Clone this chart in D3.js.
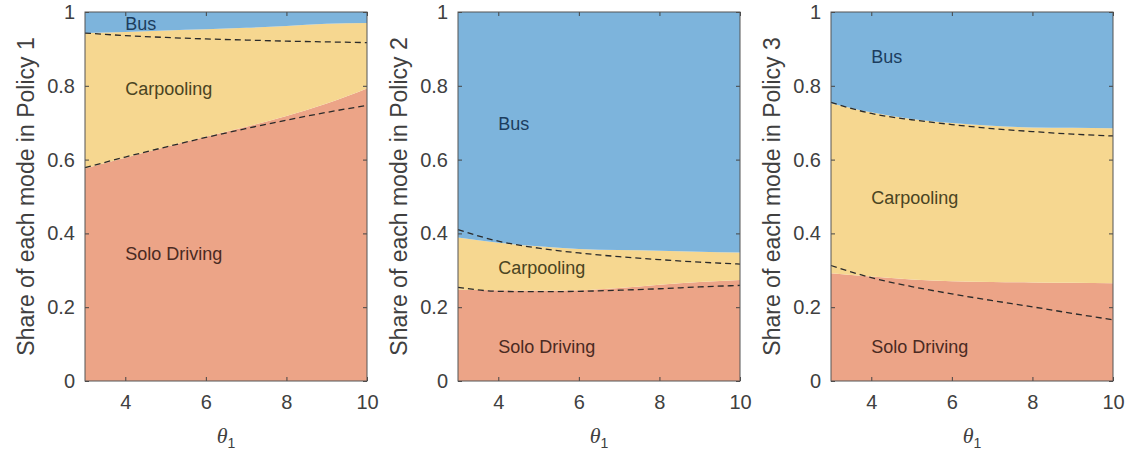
<!DOCTYPE html>
<html>
<head>
<meta charset="utf-8">
<script src="https://d3js.org/d3.v7.min.js"></script>
<style>
  body { margin: 0; background: #fff; }
  svg { display: block; font-family: "Liberation Sans", Arial, sans-serif; }
</style>
</head>
<body>
<div id="chart"></div>
<script>
// theta_1 values
const theta = [3, 4, 5, 6, 7, 8, 9, 10];
const modes = ["Solo Driving", "Carpooling", "Bus"];
const xTicks = [4, 6, 8, 10];
const yTicks = [0, 0.2, 0.4, 0.6, 0.8, 1];

// Policy 1 shares
const p1Solo    = [0.576, 0.605, 0.634, 0.662, 0.689, 0.718, 0.752, 0.793];
const p1Carpool = [0.367, 0.341, 0.316, 0.291, 0.268, 0.244, 0.216, 0.177];
const p1Bus     = [0.057, 0.054, 0.050, 0.047, 0.043, 0.038, 0.032, 0.030];
// Policy 1 reference (dashed)
const p1RefSolo    = [0.578, 0.607, 0.634, 0.660, 0.684, 0.707, 0.728, 0.747];
const p1RefCarpool = [0.365, 0.329, 0.297, 0.267, 0.240, 0.214, 0.191, 0.170];

// Policy 2 shares
const p2Solo    = [0.247, 0.246, 0.245, 0.246, 0.252, 0.261, 0.268, 0.274];
const p2Carpool = [0.142, 0.129, 0.120, 0.112, 0.103, 0.092, 0.082, 0.074];
const p2Bus     = [0.611, 0.625, 0.635, 0.642, 0.645, 0.647, 0.650, 0.652];
const p2RefSolo    = [0.254, 0.243, 0.242, 0.243, 0.246, 0.250, 0.255, 0.259];
const p2RefCarpool = [0.156, 0.136, 0.118, 0.104, 0.091, 0.079, 0.067, 0.058];

// Policy 3 shares
const p3Solo    = [0.292, 0.283, 0.275, 0.270, 0.268, 0.267, 0.266, 0.265];
const p3Carpool = [0.461, 0.445, 0.435, 0.429, 0.424, 0.420, 0.420, 0.420];
const p3Bus     = [0.247, 0.272, 0.290, 0.301, 0.308, 0.313, 0.314, 0.315];
const p3RefSolo    = [0.313, 0.280, 0.256, 0.236, 0.218, 0.201, 0.183, 0.166];
const p3RefCarpool = [0.442, 0.445, 0.452, 0.459, 0.466, 0.475, 0.486, 0.498];

const colors = { "Solo Driving": "#eca487", "Carpooling": "#f6d790", "Bus": "#7db4dc" };
const textColors = { "Solo Driving": "#4a2a22", "Carpooling": "#4a4422", "Bus": "#1c3d5e" };

const panels = [
  { name: "Policy 1", left: 85, shares: [p1Solo, p1Carpool, p1Bus], ref: [p1RefSolo, p1RefCarpool],
    labels: [["Bus", 4, 0.967], ["Carpooling", 4, 0.793], ["Solo Driving", 4, 0.345]] },
  { name: "Policy 2", left: 458, shares: [p2Solo, p2Carpool, p2Bus], ref: [p2RefSolo, p2RefCarpool],
    labels: [["Bus", 4, 0.696], ["Carpooling", 4, 0.307], ["Solo Driving", 4, 0.092]] },
  { name: "Policy 3", left: 831, shares: [p3Solo, p3Carpool, p3Bus], ref: [p3RefSolo, p3RefCarpool],
    labels: [["Bus", 4, 0.878], ["Carpooling", 4, 0.497], ["Solo Driving", 4, 0.092]] }
];

const W = 1134, H = 452;
const pw = 282, plotTop = 12, plotBottom = 381;

const svg = d3.select("#chart").append("svg")
  .attr("width", W).attr("height", H);

panels.forEach(p => {
  const h = plotBottom - plotTop;
  const x = d3.scaleLinear().domain([3, 10]).range([0, pw]);
  const y = d3.scaleLinear().domain([0, 1]).range([h, 0]);
  const g = svg.append("g").attr("transform", `translate(${p.left},${plotTop})`);

  // stacked areas
  const rows = theta.map((t, i) => {
    const r = { t: t };
    modes.forEach((m, k) => r[m] = p.shares[k][i]);
    return r;
  });
  const series = d3.stack().keys(modes)(rows);
  const area = d3.area()
    .curve(d3.curveMonotoneX)
    .x(d => x(d.data.t))
    .y0(d => y(d[0]))
    .y1(d => y(d[1]));
  g.selectAll("path.area").data(series).join("path")
    .attr("class", "area")
    .attr("fill", d => colors[d.key])
    .attr("d", area);

  // dashed reference boundaries
  const lower = p.ref[0];
  const upper = p.ref[0].map((v, i) => v + p.ref[1][i]);
  const line = d3.line()
    .curve(d3.curveMonotoneX)
    .x((d, i) => x(theta[i]))
    .y(d => y(d));
  [lower, upper].forEach(b => {
    g.append("path")
      .attr("d", line(b))
      .attr("fill", "none")
      .attr("stroke", "#2a2a2a")
      .attr("stroke-width", 1.3)
      .attr("stroke-dasharray", "6,4");
  });

  // mode labels
  p.labels.forEach(l => {
    g.append("text")
      .attr("x", x(l[1]))
      .attr("y", y(l[2]))
      .attr("dy", "0.35em")
      .attr("font-size", 18)
      .attr("fill", textColors[l[0]])
      .text(l[0]);
  });

  // axes with inward ticks
  const xb = g.append("g").attr("transform", `translate(0,${h})`)
    .call(d3.axisBottom(x).tickValues(xTicks).tickSize(-4).tickPadding(14).tickFormat(d3.format("d")));
  const xt = g.append("g")
    .call(d3.axisTop(x).tickValues(xTicks).tickSize(-4).tickFormat(""));
  const yl = g.append("g")
    .call(d3.axisLeft(y).tickValues(yTicks).tickSize(-4).tickPadding(10).tickFormat(d => d === 0 || d === 1 ? d : d.toFixed(1)));
  const yr = g.append("g").attr("transform", `translate(${pw},0)`)
    .call(d3.axisRight(y).tickValues(yTicks).tickSize(-4).tickFormat(""));
  [xb, xt, yl, yr].forEach(a => {
    a.select(".domain").remove();
    a.selectAll("line").attr("stroke", "#444");
    a.selectAll("text").attr("font-size", 20).attr("fill", "#404040").attr("font-family", "Liberation Sans, Arial, sans-serif");
  });

  // box
  g.append("rect")
    .attr("width", pw).attr("height", h)
    .attr("fill", "none").attr("stroke", "#555").attr("stroke-width", 1);

  // y label
  g.append("text")
    .attr("transform", `translate(-51,${h / 2}) rotate(-90)`)
    .attr("text-anchor", "middle")
    .attr("font-size", 23)
    .attr("fill", "#404040")
    .text("Share of each mode in " + p.name);

  // x label theta_1
  const xl = g.append("text")
    .attr("x", pw / 2)
    .attr("y", h + 62)
    .attr("text-anchor", "middle")
    .attr("fill", "#404040");
  xl.append("tspan")
    .attr("font-family", "Liberation Serif, Times New Roman, serif")
    .attr("font-style", "italic")
    .attr("font-size", 22)
    .text("θ");
  xl.append("tspan")
    .attr("font-size", 14)
    .attr("dy", 5)
    .text("1");
});
</script>
</body>
</html>
